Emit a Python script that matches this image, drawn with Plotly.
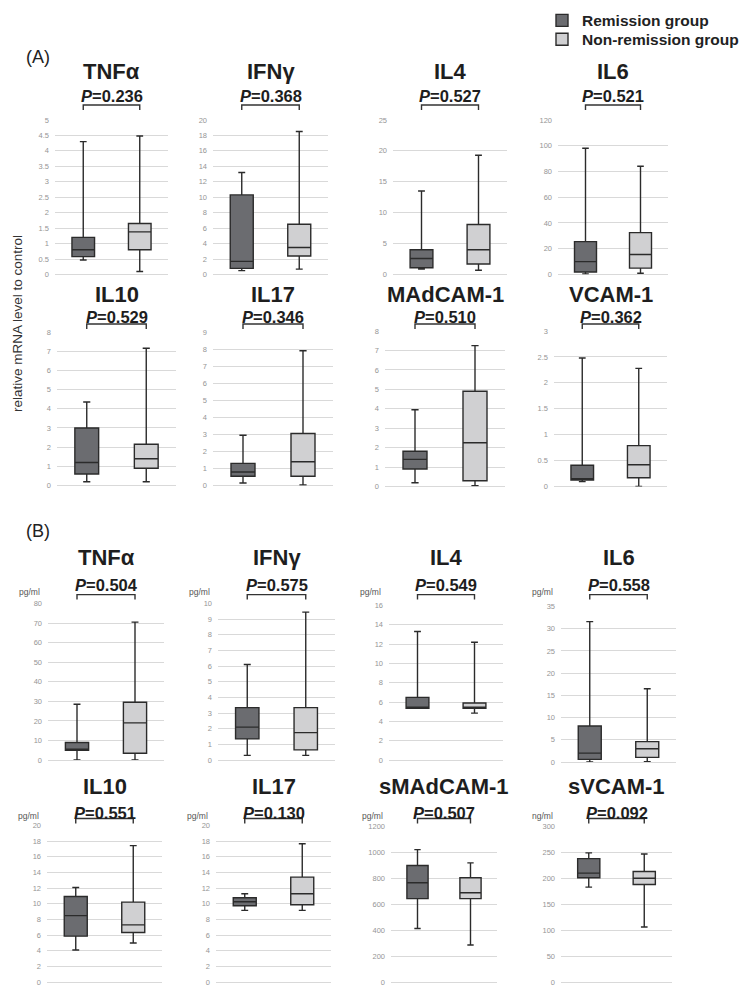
import plotly.graph_objects as go

FIG_W, FIG_H = 755, 989

# ---- data -------------------------------------------------------------
panel_names = ["TNFα", "IFNγ", "IL4", "IL6",
               "IL10", "IL17", "MAdCAM-1", "VCAM-1",
               "TNFα", "IFNγ", "IL4", "IL6",
               "IL10", "IL17", "sMAdCAM-1", "sVCAM-1"]
p_values = ["0.236", "0.368", "0.527", "0.521",
            "0.529", "0.346", "0.510", "0.362",
            "0.504", "0.575", "0.549", "0.558",
            "0.551", "0.130", "0.507", "0.092"]
unit_labels = ["", "", "", "", "", "", "", "",
               "pg/ml", "pg/ml", "pg/ml", "pg/ml",
               "pg/ml", "pg/ml", "pg/ml", "ng/ml"]
y_max = [5, 20, 25, 120, 8, 9, 8, 3,
         80, 10, 16, 35, 20, 20, 1200, 300]
y_step = [0.5, 2, 5, 20, 1, 1, 1, 0.5,
          10, 1, 2, 5, 2, 2, 200, 50]

# Remission group: five-number summaries
rem_low = [0.47, 0.5, 0.9, 0.5, 0.2, 0.15, 0.2, 0.095,
           0.0, 0.3, 5.37, 0.0, 4.1, 9.15, 413, 183]
rem_q1 = [0.58, 0.8, 1.1, 2.0, 0.6, 0.55, 0.9, 0.127,
          5.0, 1.35, 5.37, 0.6, 5.86, 9.75, 643, 201]
rem_median = [0.8, 1.7, 2.6, 10.0, 1.2, 0.8, 1.4, 0.15,
              5.3, 2.1, 5.4, 2.0, 8.48, 10.25, 766, 210]
rem_q3 = [1.2, 10.3, 4.0, 25.5, 3.0, 1.3, 1.82, 0.41,
          9.0, 3.35, 6.49, 8.1, 10.93, 10.76, 899, 238]
rem_high = [4.3, 13.2, 13.5, 98, 4.35, 2.95, 3.95, 2.48,
            28.5, 6.1, 13.3, 31.6, 12.07, 11.27, 1021, 249]

# Non-remission group: five-number summaries
non_low = [0.1, 0.7, 0.7, 1.0, 0.2, 0.03, 0.05, 0.0,
           0.0, 0.3, 4.86, 0.1, 4.98, 9.15, 286, 106]
non_q1 = [0.8, 2.4, 1.7, 5.0, 0.9, 0.55, 0.3, 0.17,
          3.5, 0.65, 5.37, 1.05, 6.33, 9.87, 643, 188]
non_median = [1.38, 3.5, 4.0, 15.5, 1.4, 1.4, 2.25, 0.42,
              19.0, 1.75, 5.45, 3.0, 7.3, 11.27, 689, 200]
non_q3 = [1.65, 6.5, 8.1, 32.5, 2.15, 3.05, 4.9, 0.79,
          29.5, 3.35, 5.9, 4.6, 10.21, 13.4, 804, 213]
non_high = [4.48, 18.5, 19.3, 84, 7.15, 7.9, 7.25, 2.28,
            70.5, 9.45, 12.2, 16.5, 17.43, 17.67, 919, 247]

group_names = ["Remission group", "Non-remission group"]

# ---- layout geometry (pixels) -------------------------------------------
grid_left = [55, 213, 393, 558, 57, 213, 385, 554,
             48, 218, 389, 561, 47, 216, 391, 561]
grid_right = [168, 328, 507, 668, 176, 333, 505, 667,
              164, 335, 503, 676, 162, 331, 497, 672]
grid_top = [117, 117, 117, 117, 331, 331, 330, 330,
            605, 605, 607, 608, 829, 829, 830, 830]
grid_zero = [273, 273, 273, 273, 486, 486, 487, 487,
             763, 763, 763, 765, 987, 987, 987, 987]
row_title_y = [68, 293, 559, 790]
row_p_y = [93, 316, 586, 816]
row_bracket_y = [102, 323, 596, 822]
row_unit_y = [0, 0, 593, 819]

DARK = "#6b6c70"
LIGHT = "#d0d0d2"
EDGE = "#2b2b2b"
FONT = "Liberation Sans"


def px_x(v):
    return v / FIG_W


def px_y(v):
    return 1 - v / FIG_H


fig = go.Figure()
annotations = []
shapes = []

for i in range(16):
    ax = "" if i == 0 else str(i + 1)
    row = i // 4
    groups = [
        (group_names[0], "legend", 0, DARK,
         rem_low, rem_q1, rem_median, rem_q3, rem_high),
        (group_names[1], "legend2", 1, LIGHT,
         non_low, non_q1, non_median, non_q3, non_high),
    ]
    for name, leg, xpos, color, lo, q1, med, q3, hi in groups:
        fig.add_trace(go.Box(
            x=[xpos], q1=[q1[i]], median=[med[i]], q3=[q3[i]],
            lowerfence=[lo[i]], upperfence=[hi[i]],
            name=name, legendgroup=name, legend=leg, showlegend=(i == 0),
            fillcolor=color, line=dict(color=EDGE, width=1.4),
            width=0.4, whiskerwidth=0.3, boxpoints=False,
            hoverinfo="skip", xaxis="x" + ax, yaxis="y" + ax,
        ))

    fig.update_layout({
        "xaxis" + ax: dict(
            domain=[px_x(grid_left[i]), px_x(grid_right[i])],
            anchor="y" + ax,
            range=[-0.5, 1.5], showgrid=False, zeroline=False,
            showline=False, showticklabels=False, fixedrange=True,
        ),
        "yaxis" + ax: dict(
            domain=[px_y(grid_zero[i]), px_y(grid_top[i])],
            anchor="x" + ax,
            range=[0, y_max[i]], dtick=y_step[i], tick0=0,
            showgrid=True, gridcolor="#d9d9d9", gridwidth=1.3,
            zeroline=True, zerolinecolor="#d9d9d9", zerolinewidth=1.3,
            showline=False, ticks="", ticklabelstandoff=5,
            tickfont=dict(size=7.5, color="#959595", family=FONT),
            fixedrange=True,
        ),
    })

    # panel title and p-value
    annotations.append(dict(
        text="<b>" + panel_names[i] + "</b>", xref="x" + ax, x=0.5,
        yref="paper", y=px_y(row_title_y[row]), yanchor="middle",
        showarrow=False, font=dict(size=22, color="#1e1e1e", family=FONT),
    ))
    annotations.append(dict(
        text="<b><i>P</i>=" + p_values[i] + "</b>", xref="x" + ax, x=0.5,
        yref="paper", y=px_y(row_p_y[row]), yanchor="middle",
        showarrow=False, font=dict(size=16.5, color="#1e1e1e", family=FONT),
    ))
    # comparison bracket between the two boxes
    yb = row_bracket_y[row]
    shapes.append(dict(
        type="path", xref="x" + ax, yref="paper",
        path=f"M 0,{px_y(yb + 5)} L 0,{px_y(yb)} L 1,{px_y(yb)} L 1,{px_y(yb + 5)}",
        line=dict(color="#333333", width=1.4),
    ))
    if unit_labels[i]:
        annotations.append(dict(
            text=unit_labels[i], xref="paper", x=px_x(grid_left[i] - 6),
            xanchor="right", yref="paper", y=px_y(row_unit_y[row]),
            yanchor="middle", showarrow=False,
            font=dict(size=8.5, color="#555555", family=FONT),
        ))

# section labels and shared axis title
annotations.append(dict(text="(A)", xref="paper", x=px_x(24), xanchor="left",
                        yref="paper", y=px_y(53), yanchor="middle",
                        showarrow=False,
                        font=dict(size=18, color="#222222", family=FONT)))
annotations.append(dict(text="(B)", xref="paper", x=px_x(24), xanchor="left",
                        yref="paper", y=px_y(532), yanchor="middle",
                        showarrow=False,
                        font=dict(size=18, color="#222222", family=FONT)))
annotations.append(dict(text="relative mRNA level to control", textangle=-90,
                        xref="paper", x=px_x(17), yref="paper", y=px_y(323),
                        xanchor="center", yanchor="middle", showarrow=False,
                        font=dict(size=13.5, color="#333333", family=FONT)))

legend_style = dict(
    xanchor="left", yanchor="middle", bgcolor="rgba(0,0,0,0)",
    itemclick=False, itemdoubleclick=False,
    font=dict(size=15.5, color="#222222", family=FONT, weight="bold"),
)

fig.update_layout(
    width=FIG_W, height=FIG_H,
    margin=dict(l=0, r=0, t=0, b=0),
    paper_bgcolor="white", plot_bgcolor="white",
    annotations=annotations, shapes=shapes,
    showlegend=True,
    legend=dict(x=px_x(542), y=px_y(17), **legend_style),
    legend2=dict(x=px_x(542), y=px_y(36), **legend_style),
)

fig.write_html("out.html")
